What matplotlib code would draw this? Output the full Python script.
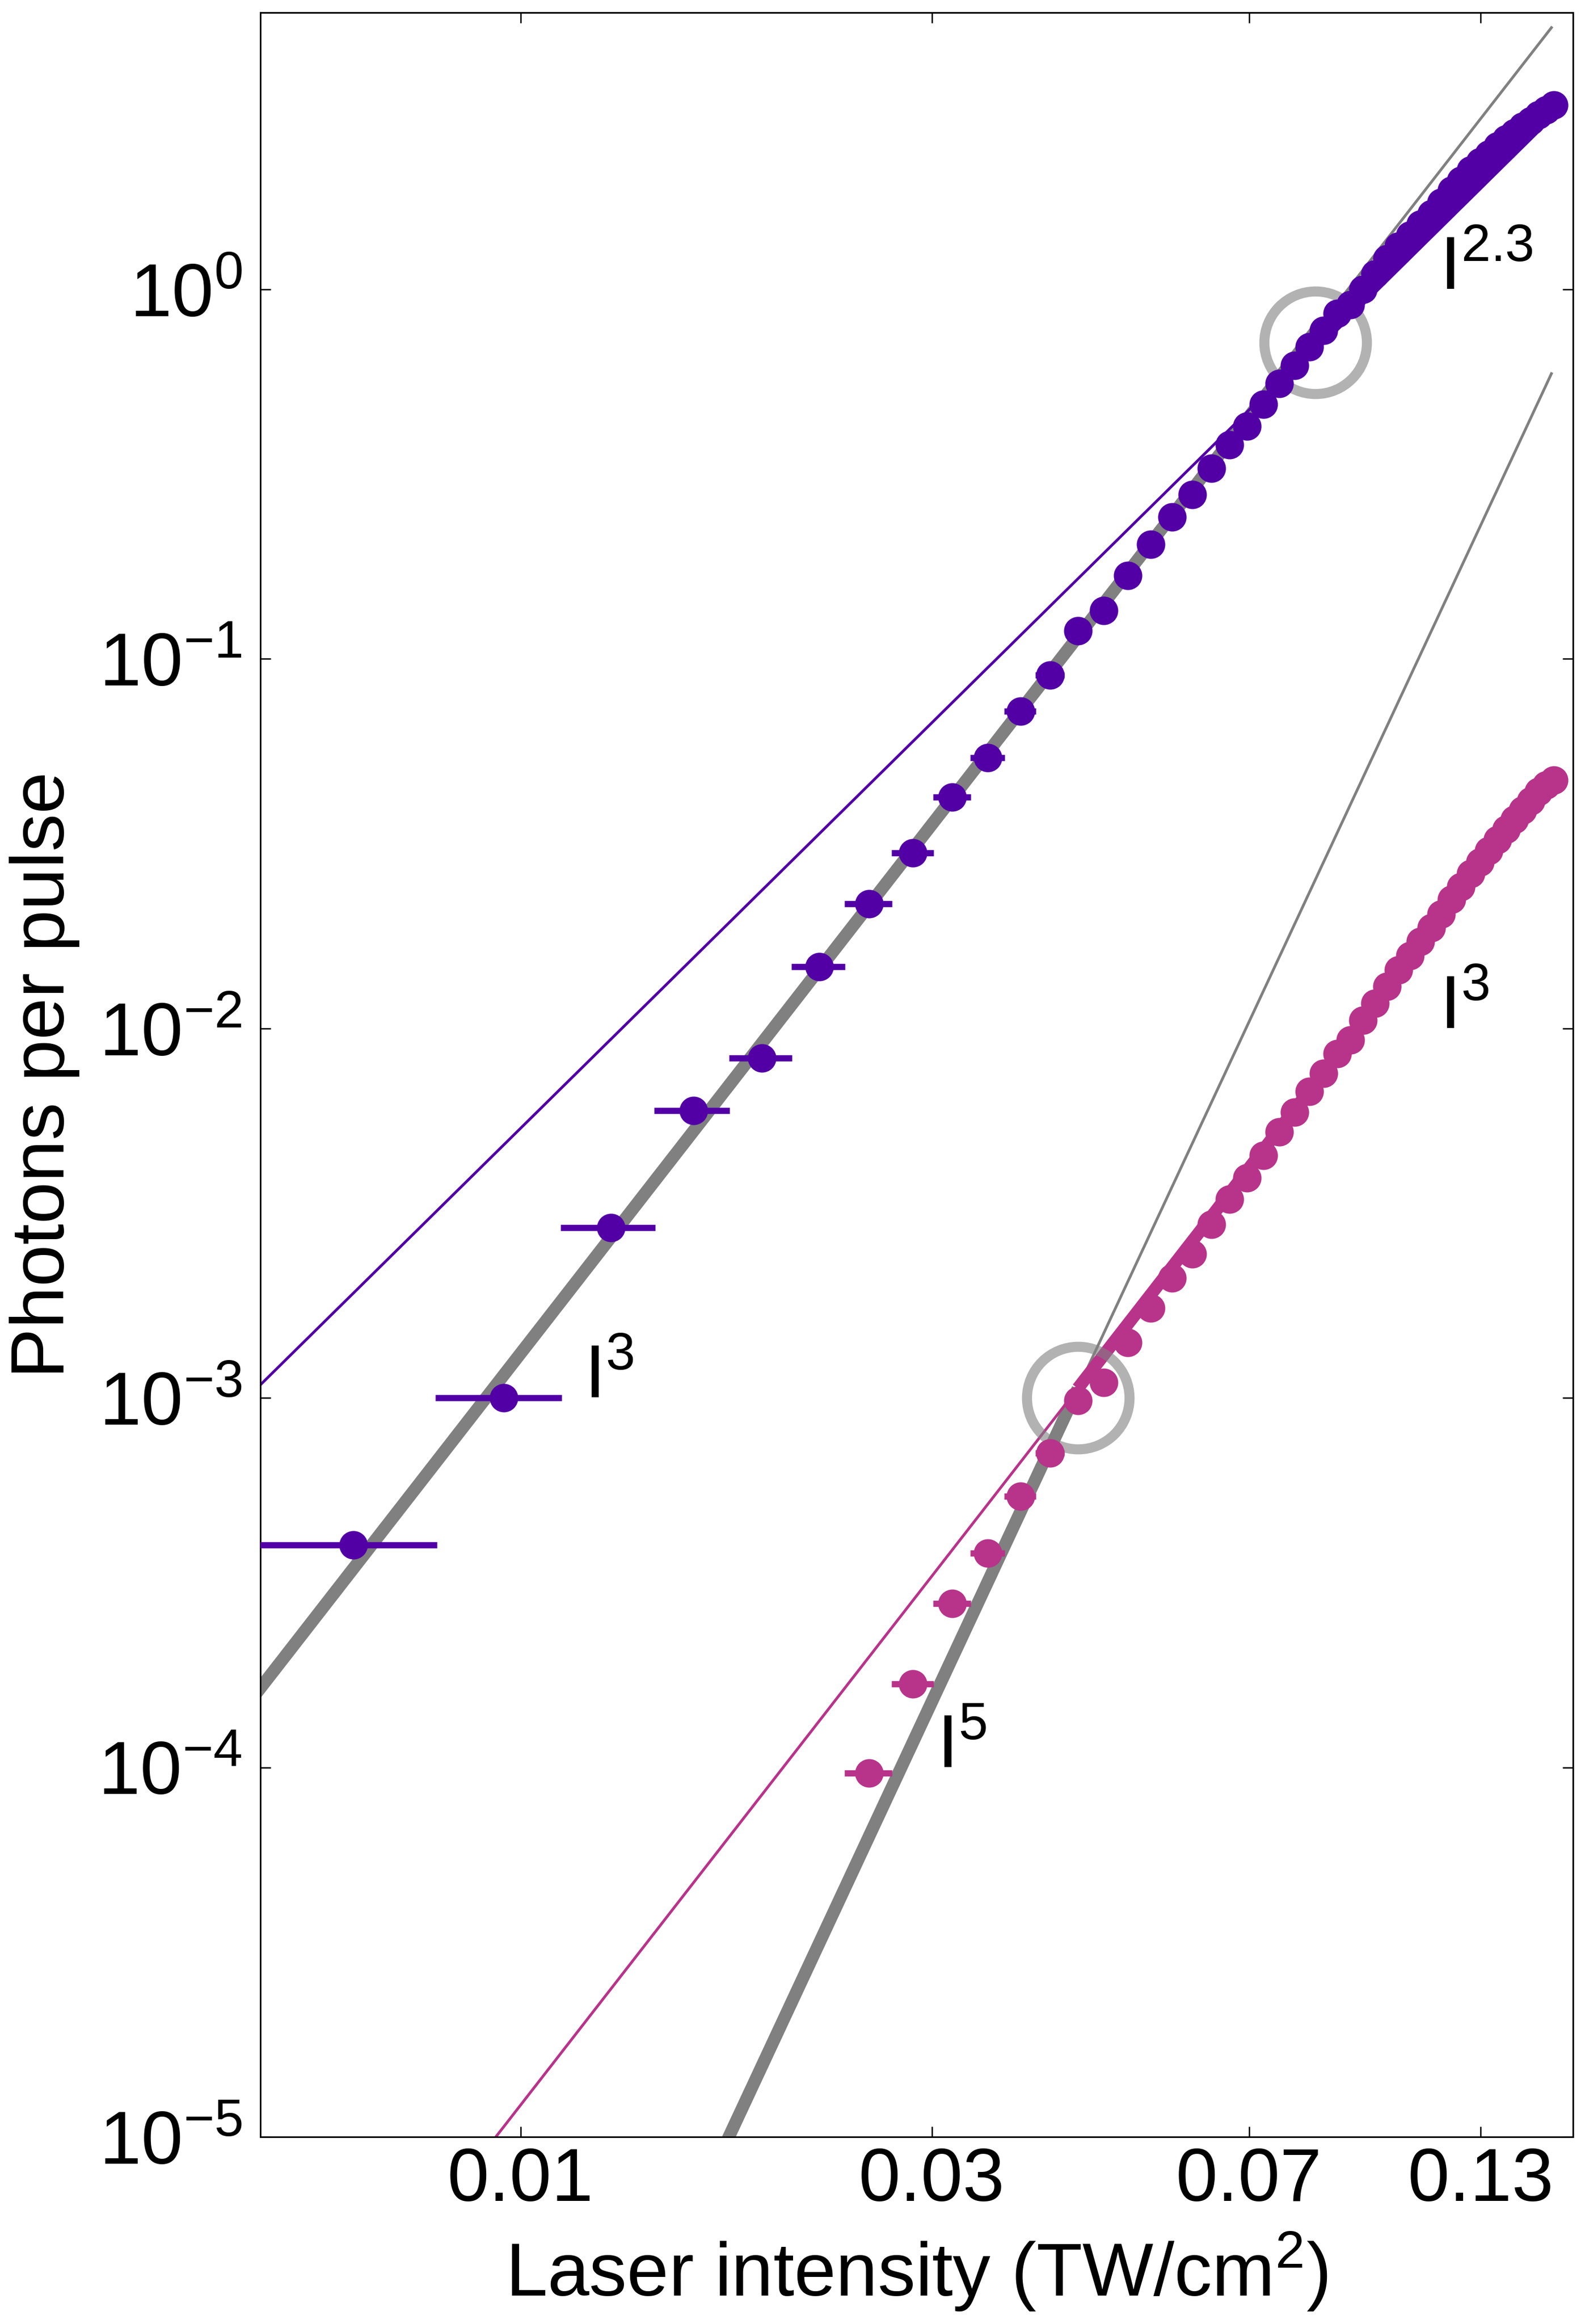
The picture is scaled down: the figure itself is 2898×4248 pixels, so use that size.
"""Photons per pulse vs laser intensity, two harmonics with power-law fits"""

import numpy as np
import matplotlib
matplotlib.use('Agg')
import matplotlib.pyplot as plt
from matplotlib.ticker import FixedLocator, FixedFormatter, NullLocator

plt.rcParams['font.family'] = ['Liberation Sans', 'DejaVu Sans']
plt.rcParams['mathtext.fontset'] = 'custom'
plt.rcParams['mathtext.rm'] = 'Liberation Sans'
plt.rcParams['mathtext.it'] = 'Liberation Sans:italic'
plt.rcParams['mathtext.bf'] = 'Liberation Sans:bold'

PURPLE = '#5200a6'
MAGENTA = '#b8338a'
GREY = '#808080'

# laser intensity steps (TW/cm^2), same grid for both harmonics
intensity = [0.0064, 0.00956, 0.01272, 0.01588, 0.01904, 0.0222, 0.02536,
             0.02852, 0.03168, 0.03484, 0.038, 0.04116, 0.04432, 0.04748,
             0.05064, 0.0538, 0.05696, 0.06012, 0.06328, 0.06644, 0.0696,
             0.07276, 0.07592, 0.07908, 0.08224, 0.0854, 0.08856, 0.09172,
             0.09488, 0.09804, 0.1012, 0.10436, 0.10752, 0.11068, 0.11384,
             0.117, 0.12016, 0.12332, 0.12648, 0.12964, 0.1328, 0.13596,
             0.13912, 0.14228, 0.14544, 0.1486, 0.15176, 0.15492, 0.15808]
intensity_err = 0.0016

purple_photons = [4.0e-4, 1.0e-3, 2.89e-3, 6.0e-3, 8.3e-3, 1.47e-2, 2.17e-2,
                  2.98e-2, 4.23e-2, 5.4e-2, 7.22e-2, 9.04e-2, 0.119, 0.135,
                  0.168, 0.204, 0.242, 0.278, 0.328, 0.380, 0.427, 0.489,
                  0.556, 0.622, 0.699, 0.774, 0.861, 0.909, 1.00, 1.10, 1.21,
                  1.31, 1.40, 1.50, 1.60, 1.72, 1.85, 1.97, 2.10, 2.21, 2.32,
                  2.44, 2.55, 2.65, 2.76, 2.86, 2.97, 3.06, 3.15]

# magenta series starts at the 7th intensity step
magenta_start = 6
magenta_photons = [9.65e-5, 1.68e-4, 2.78e-4, 3.80e-4, 5.42e-4, 7.1e-4,
                   9.84e-4, 1.10e-3, 1.41e-3, 1.75e-3, 2.11e-3, 2.45e-3,
                   2.95e-3, 3.45e-3, 3.94e-3, 4.53e-3, 5.25e-3, 5.93e-3,
                   6.75e-3, 7.55e-3, 8.54e-3, 9.3e-3, 1.05e-2, 1.17e-2,
                   1.30e-2, 1.44e-2, 1.57e-2, 1.72e-2, 1.87e-2, 2.04e-2,
                   2.23e-2, 2.42e-2, 2.62e-2, 2.82e-2, 3.03e-2, 3.24e-2,
                   3.46e-2, 3.68e-2, 3.90e-2, 4.13e-2, 4.37e-2, 4.55e-2,
                   4.70e-2]

# power law fits: (exponent, prefactor)
purple_low_fit = (3, 1320.0)
purple_high_fit = (2.3, 213.7)
magenta_low_fit = (5, 6200.0)
magenta_high_fit = (3, 12.2)

# knee markers (intensity, photons)
purple_knee = (0.0836, 0.718)
magenta_knee = (0.0443, 1.0e-3)

fit_range = (0.004, 0.157)


def power_law(x, fit):
    n, a = fit
    return a * x ** n


def draw_fits(ax, knee_x, low_fit, high_fit, colour):
    """thick below the knee for the low fit, thick above it for the high fit"""
    below = np.geomspace(fit_range[0], knee_x, 100)
    above = np.geomspace(knee_x, fit_range[1], 100)
    ax.plot(below, power_law(below, low_fit), color=GREY, lw=5.5,
            solid_capstyle='butt', zorder=2)
    ax.plot(above, power_law(above, low_fit), color=GREY, lw=1.2, zorder=2)
    ax.plot(below, power_law(below, high_fit), color=colour, lw=1.2, zorder=2)
    ax.plot(above, power_law(above, high_fit), color=colour, lw=5.5,
            solid_capstyle='butt', zorder=2)


fig = plt.figure(figsize=(9.66, 14.16), dpi=300)
ax = fig.add_axes([0.16425, 0.0805, 0.82816, 0.91408])
ax.set_xscale('log')
ax.set_yscale('log')

draw_fits(ax, purple_knee[0], purple_low_fit, purple_high_fit, PURPLE)
draw_fits(ax, magenta_knee[0], magenta_low_fit, magenta_high_fit, MAGENTA)

for knee in (purple_knee, magenta_knee):
    ax.plot(knee[0], knee[1], 'o', ms=45, mfc='none', mec=GREY, mew=4.4,
            alpha=0.6, zorder=3)

ax.errorbar(intensity, purple_photons, xerr=intensity_err, fmt='o',
            color=PURPLE, ms=12.5, mew=0, elinewidth=2.75, capsize=0, zorder=4)
ax.errorbar(intensity[magenta_start:], magenta_photons, xerr=intensity_err,
            fmt='o', color=MAGENTA, ms=12.5, mew=0, elinewidth=2.75,
            capsize=0, zorder=4)

# power labels
label_size = 33
ax.text(0.1165, 1.0, r'$\mathregular{I^{2.3}}$', fontsize=label_size,
        va='baseline', ha='left')
ax.text(0.1165, 1.0e-2, r'$\mathregular{I^{3}}$', fontsize=label_size,
        va='baseline', ha='left')
ax.text(0.01185, 1.0e-3, r'$\mathregular{I^{3}}$', fontsize=label_size,
        va='baseline', ha='left')
ax.text(0.0304, 1.0e-4, r'$\mathregular{I^{5}}$', fontsize=label_size,
        va='baseline', ha='left')

ax.set_xlim(0.004989, 0.1663)
ax.set_ylim(1e-5, 5.61)

x_ticks = [0.01, 0.03, 0.07, 0.13]
ax.xaxis.set_major_locator(FixedLocator(x_ticks))
ax.xaxis.set_major_formatter(FixedFormatter(['0.01', '0.03', '0.07', '0.13']))
ax.xaxis.set_minor_locator(NullLocator())
ax.yaxis.set_major_locator(FixedLocator([1e-5, 1e-4, 1e-3, 1e-2, 1e-1, 1e0]))
ax.yaxis.set_minor_locator(NullLocator())

ax.tick_params(which='both', direction='in', top=True, right=True,
               length=4.6, width=0.6, labelsize=33)
ax.tick_params(axis='x', pad=4)
ax.tick_params(axis='y', pad=8)
for spine in ax.spines.values():
    spine.set_linewidth(0.7)

ax.set_xlabel(r'Laser intensity (TW/cm$^2$)', fontsize=33, labelpad=6)
ax.set_ylabel('Photons per pulse', fontsize=33, labelpad=8)

fig.savefig('out.png', dpi=300)
